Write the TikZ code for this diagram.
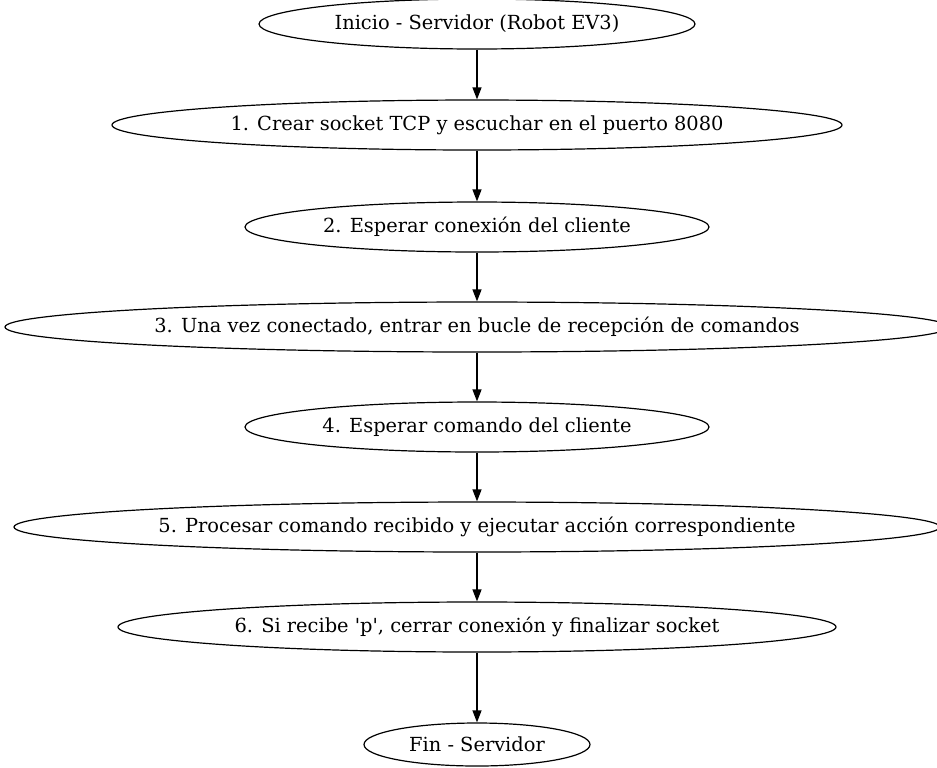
\documentclass[tikz,border=0pt]{standalone}
\usepackage{fontspec}
\setmainfont{DejaVu Serif}
\usetikzlibrary{shapes.geometric,arrows.meta}
\tikzset{paso/.style={draw, ellipse, inner sep=0pt, minimum height=25pt, line width=0.6pt, font=\fontsize{9.7}{11}\selectfont}}

\begin{document}
\begin{tikzpicture}[x=0.5pt,y=-0.5pt]
\useasboundingbox (0,0) rectangle (937,767);
\node[paso, minimum width=218pt] (inicio) at (477,24) {Inicio - Servidor (Robot EV3)};
\node[paso, minimum width=365pt] (socket) at (477,125) {1. Crear socket TCP y escuchar en el puerto 8080};
\node[paso, minimum width=232pt] (espera) at (477,227) {2. Esperar conexión del cliente};
\node[paso, minimum width=472pt] (bucle) at (477,327) {3. Una vez conectado, entrar en bucle de recepción de comandos};
\node[paso, minimum width=232pt] (comando) at (477,427) {4. Esperar comando del cliente};
\node[paso, minimum width=463pt] (procesa) at (477,527) {5. Procesar comando recibido y ejecutar acción correspondiente};
\node[paso, minimum width=359pt] (cierra) at (477,627) {6. Si recibe \textquotesingle p\textquotesingle, cerrar conexión y finalizar socket};
\node[paso, minimum width=113pt, minimum height=21.5pt] (fin) at (477,744.5) {Fin - Servidor};
% flechas entre pasos
\draw [>={Triangle[length=6pt,width=4.5pt]},->,line width=0.6pt] (inicio) -- (socket);
\draw [>={Triangle[length=6pt,width=4.5pt]},->,line width=0.6pt] (socket) -- (espera);
\draw [>={Triangle[length=6pt,width=4.5pt]},->,line width=0.6pt] (espera) -- (bucle);
\draw [>={Triangle[length=6pt,width=4.5pt]},->,line width=0.6pt] (bucle) -- (comando);
\draw [>={Triangle[length=6pt,width=4.5pt]},->,line width=0.6pt] (comando) -- (procesa);
\draw [>={Triangle[length=6pt,width=4.5pt]},->,line width=0.6pt] (procesa) -- (cierra);
\draw [>={Triangle[length=6pt,width=4.5pt]},->,line width=0.6pt] (cierra) -- (fin);
\end{tikzpicture}
\end{document}
